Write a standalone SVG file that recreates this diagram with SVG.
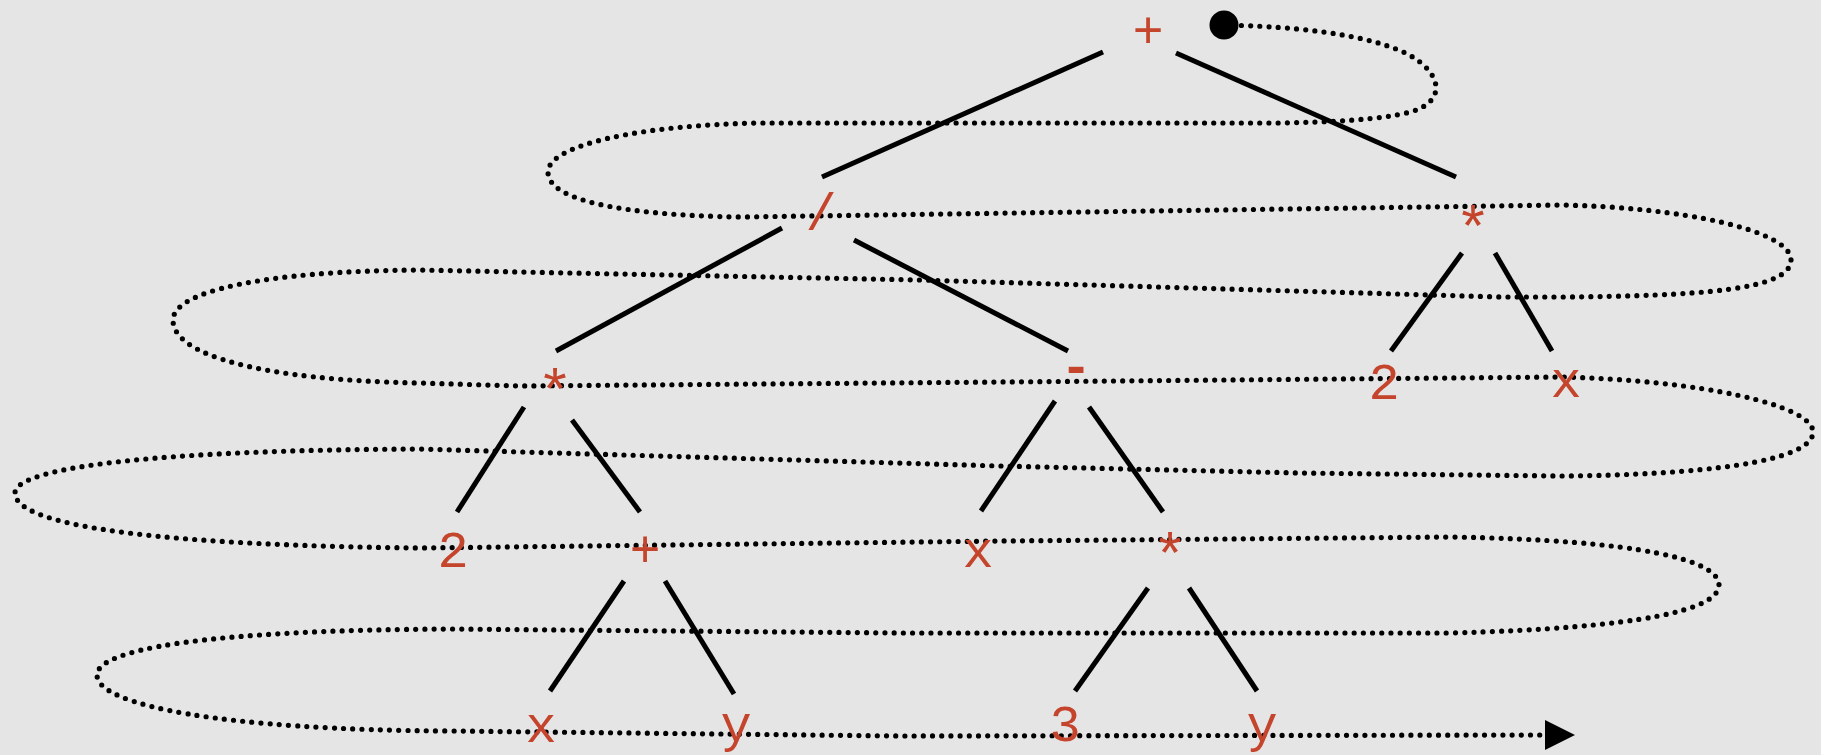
<svg xmlns="http://www.w3.org/2000/svg" width="1821" height="755" viewBox="0 0 1821 755">
<defs>
<style>
.lbl{font-family:"Liberation Mono","DejaVu Sans Mono",monospace;font-size:52px;fill:#c4442c;text-anchor:middle}
.ast{font-size:60px}
.edge{stroke:#000;stroke-width:5;stroke-linecap:butt;fill:none}
.trav{stroke:#000;stroke-width:5.2;stroke-linecap:round;stroke-dasharray:0 9.2;fill:none}
</style>
</defs>
<rect width="1821" height="755" fill="#e5e5e5"/>
<g id="connectors">
<line class="edge" x1="1103" y1="52" x2="822" y2="177"/>
<line class="edge" x1="1176" y1="53" x2="1456" y2="177"/>
<line class="edge" x1="782" y1="228" x2="556" y2="351"/>
<line class="edge" x1="854" y1="240" x2="1068" y2="351"/>
<line class="edge" x1="1462" y1="253" x2="1391" y2="351"/>
<line class="edge" x1="1495" y1="253" x2="1552" y2="351"/>
<line class="edge" x1="524" y1="407" x2="457" y2="512"/>
<line class="edge" x1="572" y1="420" x2="640" y2="512"/>
<line class="edge" x1="1055" y1="401" x2="981" y2="511"/>
<line class="edge" x1="1089" y1="407" x2="1163" y2="512"/>
<line class="edge" x1="624" y1="581" x2="550" y2="691"/>
<line class="edge" x1="665" y1="581" x2="734" y2="694"/>
<line class="edge" x1="1148" y1="588" x2="1075" y2="691"/>
<line class="edge" x1="1189" y1="588" x2="1257" y2="691"/>
</g>
<g id="traversal">
<path class="trav" d="M1223,25 C1330,27 1395,42 1420,62 C1445,82 1440,104 1410,112 C1380,120 1330,122 1280,123 L760,123 C640,125 548,145 548,172 C548,200 620,215 740,217 L1560,205 C1680,207 1791,230 1791,260 C1791,290 1700,296 1560,297 L1500,297 L920,280 L420,270 C260,271 173,292 173,320 C173,355 260,380 420,383 L520,386 L1000,382 L1560,377 C1700,380 1813,405 1813,432 C1813,462 1700,475 1560,476 L1300,473 L1000,466 L420,449 C150,450 15,468 15,493 C15,525 150,545 420,548 L1000,541 L1450,537 C1640,540 1719,560 1719,585 C1719,610 1640,628 1450,633 L900,633 L453,629 C200,630 97,650 97,675 C97,705 220,730 453,731 L900,736 L1545,735"/>
<circle cx="1224" cy="25" r="14.5" fill="#000"/>
<polygon points="1545,720 1575,735 1545,750" fill="#000"/>
</g>
<g id="n-plus-root"><text class="lbl" x="1148" y="48">+</text></g>
<g id="n-div"><text class="lbl" x="821" y="230">/</text></g>
<g id="n-mul-right"><text class="lbl ast" x="1473" y="248">*</text></g>
<g id="n-mul-left"><text class="lbl ast" x="555" y="411">*</text></g>
<g id="n-minus"><text class="lbl" x="1076" y="383" font-weight="bold">-</text></g>
<g id="n-two-right"><text class="lbl" x="1384" y="399">2</text></g>
<g id="n-x-right"><text class="lbl" x="1566" y="397">x</text></g>
<g id="n-two-left"><text class="lbl" x="453" y="567">2</text></g>
<g id="n-plus-mid"><text class="lbl" x="645" y="567">+</text></g>
<g id="n-x-mid"><text class="lbl" x="978" y="567">x</text></g>
<g id="n-mul-mid"><text class="lbl ast" x="1170" y="575">*</text></g>
<g id="n-x-bottom"><text class="lbl" x="541" y="742">x</text></g>
<g id="n-y-left"><text class="lbl" x="736" y="741">y</text></g>
<g id="n-three"><text class="lbl" x="1065" y="741">3</text></g>
<g id="n-y-right"><text class="lbl" x="1262" y="741">y</text></g>
</svg>
